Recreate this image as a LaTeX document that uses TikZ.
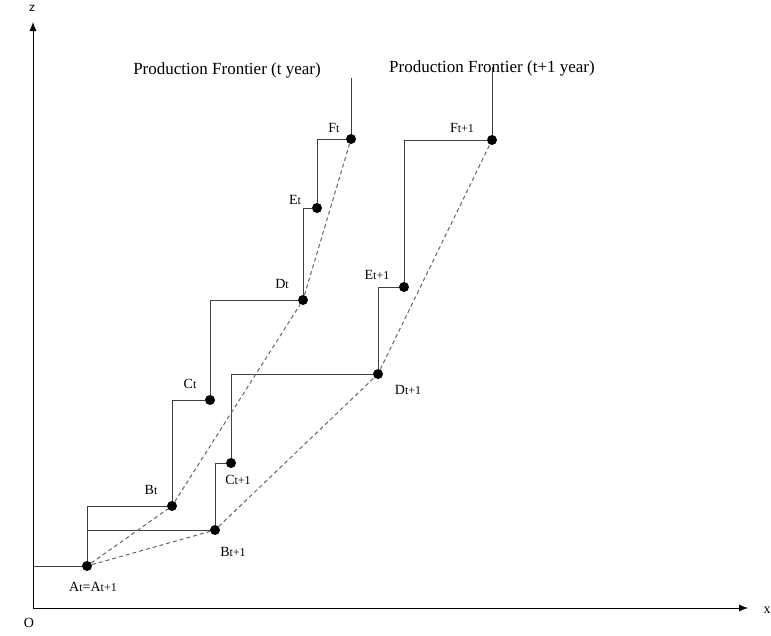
\documentclass[tikz,border=0pt]{standalone}
\usepackage{fontspec}
\setmainfont{Liberation Serif}
\usetikzlibrary{arrows.meta}
\tikzset{
    dot/.style={circle, fill=black, inner sep=0pt, minimum size=10pt},
    ptlabel/.style={font=\fontsize{14}{14}\selectfont, inner sep=0pt},
    title/.style={font=\fontsize{17}{17}\selectfont, inner sep=0pt},
    steps/.style={black!75, line width=1pt},
    hull/.style={black!60, line width=1pt, dash pattern=on 4pt off 3pt},
    axis/.style={-{Latex[length=9pt,width=7pt]}, line width=0.8pt},
}
\newcommand{\tsub}[1]{{\fontsize{12}{12}\selectfont #1}}

\begin{document}
\begin{tikzpicture}[x=1pt, y=-1pt]
    \useasboundingbox (0,0) rectangle (771,635);
    % axes
    \coordinate (O) at (33,608);
    \coordinate (xend) at (748,608);
    \coordinate (zend) at (33,22);
    \draw[axis] (O) -- (xend);
    \draw[axis] (O) -- (zend);
    \node[font=\sffamily\fontsize{14}{14}\selectfont] (zlab) at (32,8) {z};
    \node[ptlabel] (xlab) at (767,610) {x};
    \node[ptlabel] (olab) at (29,623) {O};

    % points
    \node[dot] (At) at (87,566) {};
    \node[dot] (Bt) at (172,506) {};
    \node[dot] (Ct) at (210,400) {};
    \node[dot] (Dt) at (303,300) {};
    \node[dot] (Et) at (317,208) {};
    \node[dot] (Ft) at (351,139) {};
    \node[dot] (Bt1) at (215,530) {};
    \node[dot] (Ct1) at (231,463) {};
    \node[dot] (Dt1) at (378,374) {};
    \node[dot] (Et1) at (404,287) {};
    \node[dot] (Ft1) at (492,140) {};

    % labels
    \node[ptlabel] (lAt) at (93,587) {A\tsub{t}=A\tsub{t+1}};
    \node[ptlabel] (lBt) at (151,490) {B\tsub{t}};
    \node[ptlabel] (lCt) at (190,384) {C\tsub{t}};
    \node[ptlabel] (lDt) at (282,284) {D\tsub{t}};
    \node[ptlabel] (lEt) at (295,200) {E\tsub{t}};
    \node[ptlabel] (lFt) at (334,128) {F\tsub{t}};
    \node[ptlabel] (lBt1) at (233,552) {B\tsub{t+1}};
    \node[ptlabel] (lCt1) at (238,480) {C\tsub{t+1}};
    \node[ptlabel] (lDt1) at (408,390) {D\tsub{t+1}};
    \node[ptlabel] (lEt1) at (377,275) {E\tsub{t+1}};
    \node[ptlabel] (lFt1) at (462,128) {F\tsub{t+1}};

    \node[title] (frontT) at (227,70) {Production Frontier (t year)};
    \node[title] (frontT1) at (492,68) {Production Frontier (t+1 year)};
    \coordinate (topT) at (351,78);
    \coordinate (topT1) at (492,67);
    \coordinate (zA) at (33,566);

    % frontier t
    \draw[steps] (zA) -- (At);
    \draw[steps] (At) |- (Bt);
    \draw[steps] (Bt) |- (Ct);
    \draw[steps] (Ct) |- (Dt);
    \draw[steps] (Dt) |- (Et);
    \draw[steps] (Et) |- (Ft);
    \draw[steps] (Ft) -- (topT);
    % frontier t+1
    \draw[steps] (At) |- (Bt1);
    \draw[steps] (Bt1) |- (Ct1);
    \draw[steps] (Ct1) |- (Dt1);
    \draw[steps] (Dt1) |- (Et1);
    \draw[steps] (Et1) |- (Ft1);
    \draw[steps] (Ft1) -- (topT1);

    % envelopes
    \draw[hull] (At) -- (Bt) -- (Dt) -- (Ft);
    \draw[hull] (At) -- (Bt1) -- (Dt1) -- (Ft1);
\end{tikzpicture}
\end{document}
